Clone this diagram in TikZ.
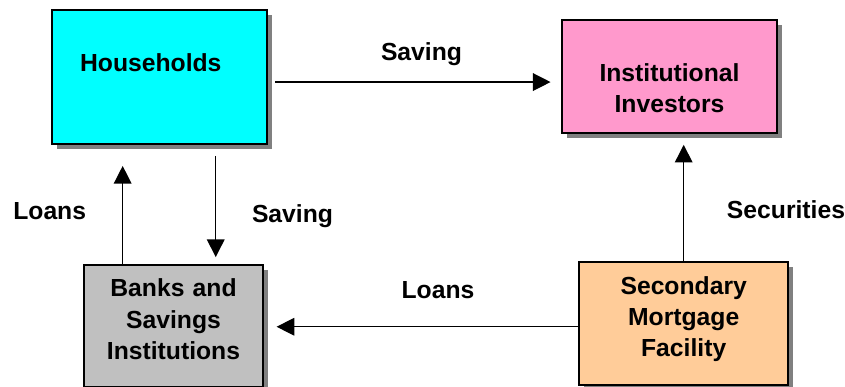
\documentclass[tikz,border=0pt]{standalone}
\usepackage{fontspec}
\setmainfont{Liberation Sans}
\usetikzlibrary{positioning,shadows,arrows.meta}

\definecolor{hhcyan}{RGB}{0,255,255}
\definecolor{invpink}{RGB}{255,153,204}
\definecolor{bankgray}{RGB}{192,192,192}
\definecolor{smforange}{RGB}{255,204,153}

\begin{document}
\begin{tikzpicture}[x=0.85pt, y=-0.85pt,
    >={Triangle[length=15pt, width=15pt]},
    box/.style={draw, rectangle, line width=1.5pt, align=center,
                font=\fontsize{21}{26.6}\selectfont\bfseries, inner xsep=4pt,
                drop shadow={shadow xshift=4.3pt, shadow yshift=-4.3pt,
                             fill=black!50, opacity=1}},
    lbl/.style={anchor=base, font=\fontsize{21}{26.6}\selectfont\bfseries},
    flow/.style={->, line width=1.1pt}]
  \useasboundingbox (0,0) rectangle (845,387);

  \node (hh) [box, fill=hhcyan, align=left, inner xsep=23.8pt,
              text width=135pt, minimum height=113.9pt,
              text height=15pt, text depth=24pt]
              at (159.5,77) {Households};

  \node (inv) [box, fill=invpink, text width=174.7pt, minimum height=95.8pt,
               text height=34.4pt, text depth=26.4pt]
               at (669.5,76.3) {Institutional\\Investors};
  \node (banks) [box, fill=bankgray, text width=144.2pt, minimum height=103.7pt,
                 text height=15pt, text depth=64.8pt]
                 at (173.5,326) {Banks and\\Savings\\Institutions};
  \node (smf) [box, fill=smforange, text width=169.4pt, minimum height=104.3pt,
               text height=15pt, text depth=65.2pt]
               at (683.7,323.7) {Secondary\\Mortgage\\Facility};

  \node (sav1) [lbl] at (421.5,61)  {Saving};
  \node (sav2) [lbl] at (292.5,222) {Saving};
  \node (lns1) [lbl] at (49.7,219.3) {Loans};
  \node (lns2) [lbl] at (438,298.3) {Loans};
  \node (sec)  [lbl] at (786,219)   {Securities};

  \draw[flow, shorten <=6.2pt, shorten >=9pt]
    ([yshift=-4.3pt]hh.east) -- ([yshift=-4.3pt]hh.east -| inv.west);
  \draw[flow, shorten <=9.4pt, shorten >=6pt]
    ([xshift=47.8pt]hh.south) -- ([xshift=47.8pt]hh.south |- banks.north);
  \draw[flow, shorten >=17.9pt]
    ([xshift=-43.2pt]banks.north) -- ([xshift=-43.2pt]banks.north |- hh.south);
  \draw[flow, shorten >=9.6pt] (smf.north) -- (smf.north |- inv.south);
  \draw[flow, shorten >=10.8pt]
    ([yshift=-2.6pt]smf.west) -- ([yshift=-2.6pt]smf.west -| banks.east);
\end{tikzpicture}
\end{document}
